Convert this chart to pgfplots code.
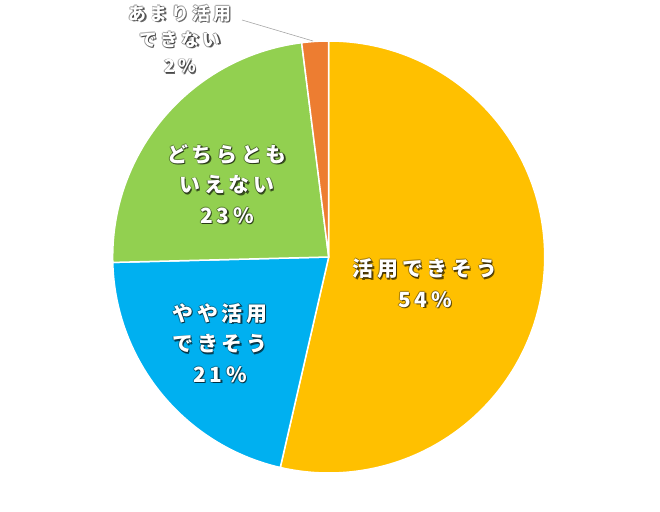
\documentclass[border=0pt]{standalone}
\usepackage{pgfplots}
\usepackage{pgfplotstable}
\pgfplotsset{compat=1.18}
\usepackage{fontspec}
\newfontfamily\jp{Noto Sans CJK JP}[LetterSpace=18]

\definecolor{cYel}{HTML}{FFC000}
\definecolor{cBlu}{HTML}{00B0F0}
\definecolor{cGrn}{HTML}{92D050}
\definecolor{cOrg}{HTML}{ED7D31}

% share of each answer, clockwise from the top
\pgfplotstableread{
value
53.6
21.0
23.4
2.0
}\pietable

\pgfplotstablegetelem{0}{value}\of\pietable \let\vA\pgfplotsretval
\pgfplotstablegetelem{1}{value}\of\pietable \let\vB\pgfplotsretval
\pgfplotstablegetelem{2}{value}\of\pietable \let\vC\pgfplotsretval
\pgfplotstablegetelem{3}{value}\of\pietable \let\vD\pgfplotsretval
\pgfmathsetmacro\aA{90}
\pgfmathsetmacro\aB{\aA-3.6*\vA}
\pgfmathsetmacro\aC{\aB-3.6*\vB}
\pgfmathsetmacro\aD{\aC-3.6*\vC}
\pgfmathsetmacro\aE{\aD-3.6*\vD}

\def\cx{328.7} \def\cy{254} \def\R{216bp}

\tikzset{
  big/.style={font=\jp\bfseries\fontsize{21}{30.5}\selectfont},
  small/.style={font=\jp\bfseries\fontsize{18}{26.5}\selectfont},
  rim/.style={text=black, opacity=0.3, align=center},
}

\newcommand\slice[3]{% from, to, colour
  \fill[#3, draw=white, line width=1.5bp, line join=round]
    (axis cs:\cx,\cy) -- ++(#1:\R) arc[start angle=#1, end angle=#2, radius=\R] -- cycle;}

% white text with a soft dark rim and a shadow to the lower right
\newcommand\lbl[4]{% style, x, y, text
  \node[#1, rim, xshift=-0.8bp] at (axis cs:#2,#3) {#4};
  \node[#1, rim, xshift=0.8bp] at (axis cs:#2,#3) {#4};
  \node[#1, rim, yshift=0.8bp] at (axis cs:#2,#3) {#4};
  \node[#1, rim, yshift=-0.8bp] at (axis cs:#2,#3) {#4};
  \node[#1, text=black, opacity=0.6, align=center, xshift=1.4bp, yshift=-1.4bp] at (axis cs:#2,#3) {#4};
  \node[#1, text=white, align=center] at (axis cs:#2,#3) {#4};}

\begin{document}
\begin{tikzpicture}
\begin{axis}[scale only axis, width=660bp, height=511bp,
    xmin=0, xmax=660, ymin=0, ymax=511, hide axis, clip=false]
  \path (axis cs:0,0) rectangle (axis cs:660,511);
  \slice{\aA}{\aB}{cYel}
  \slice{\aB}{\aC}{cBlu}
  \slice{\aC}{\aD}{cGrn}
  \slice{\aD}{\aE}{cOrg}
  \draw[gray!70, line width=0.6bp] (axis cs:242,491) -- (axis cs:313,470);
  \lbl{big}{425}{228}{活用できそう\\54\%}
  \lbl{big}{220}{168}{やや活用\\できそう\\21\%}
  \lbl{big}{227}{327}{どちらとも\\いえない\\23\%}
  \lbl{small}{180}{472}{あまり活用\\できない\\2\%}
\end{axis}
\end{tikzpicture}
\end{document}
